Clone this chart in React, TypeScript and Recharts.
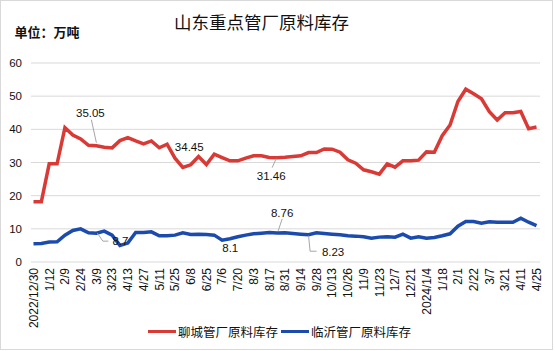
import React from 'react';
import { LineChart, Line, XAxis, YAxis, CartesianGrid, Legend } from 'recharts';

const categories = [
  '2022/12/30', '1/5', '1/12', '2/2', '2/9', '2/16', '2/24', '3/2', '3/9', '3/16',
  '3/23', '3/30', '4/13', '4/20', '4/27', '5/4', '5/11', '5/18', '5/25', '6/1',
  '6/8', '6/15', '6/25', '6/29', '7/6', '7/13', '7/20', '7/27', '8/3', '8/10',
  '8/17', '8/24', '8/31', '9/7', '9/14', '9/21', '9/28', '10/8', '10/13', '10/19',
  '10/26', '11/2', '11/9', '11/16', '11/23', '11/30', '12/7', '12/14', '12/21', '12/28',
  '2024/1/4', '1/11', '1/18', '1/25', '2/1', '2/8', '2/22', '2/29', '3/7', '3/14',
  '3/21', '3/28', '4/11', '4/18', '4/25',
];

const liaocheng = [
  18.2, 18.2, 29.6, 29.6, 40.5, 38.3, 37.1, 35.2, 35.05, 34.6,
  34.4, 36.6, 37.5, 36.5, 35.6, 36.5, 34.45, 35.5, 31.3, 28.5,
  29.3, 31.8, 29.4, 32.5, 31.5, 30.5, 30.5, 31.3, 32.0, 32.0,
  31.5, 31.46, 31.6, 31.8, 32.0, 33.0, 33.0, 34.1, 34.0, 33.1,
  30.8, 29.8, 27.8, 27.2, 26.5, 29.6, 28.6, 30.5, 30.5, 30.7,
  33.2, 33.1, 38.1, 41.3, 48.4, 52.1, 50.7, 49.2, 45.3, 42.8,
  45.0, 45.0, 45.4, 40.2, 40.7,
];

const linyi = [
  5.5, 5.6, 6.0, 6.1, 8.1, 9.5, 10.0, 8.8, 8.7, 9.3,
  8.1, 5.0, 5.7, 8.9, 8.9, 9.1, 7.9, 7.9, 8.1, 8.8,
  8.3, 8.4, 8.3, 8.1, 6.6, 7.0, 7.6, 8.1, 8.5, 8.7,
  8.9, 8.76, 8.8, 8.6, 8.4, 8.23, 8.8, 8.6, 8.4, 8.2,
  7.9, 7.8, 7.6, 7.2, 7.5, 7.6, 7.5, 8.4, 7.2, 7.6,
  7.2, 7.4, 7.9, 8.5, 10.8, 12.2, 12.2, 11.7, 12.1, 12.0,
  12.0, 12.0, 13.2, 12.0, 11.0,
];

const yTicks = [0, 10, 20, 30, 40, 50, 60];
const chartTitle = '山东重点管厂原料库存';
const unitText = '单位：万吨';
const seriesNames = ['聊城管厂原料库存', '临沂管厂原料库存'];
const redLabelIndices = [8, 16, 31];
const blueLabelIndices = [8, 23, 31, 35];

const data = categories.map((c, i) => ({ date: c, lc: liaocheng[i], ly: linyi[i] }));

const FONT = '"Liberation Sans", Arial, "Noto Sans CJK SC", sans-serif';
const RED = '#D93A35';
const BLUE = '#1C4BAE';
const GRID = '#d9d9d9';
const LEADER = '#a6a6a6';

// label placement (relative to the data point): text centre offset and leader line points
const redLabelStyle: Record<number, { dx: number; dy: number; leader?: number[][] }> = {
  8: { dx: -6, dy: -33, leader: [[-5, -26], [0, -3]] },
  16: { dx: 30, dy: -1 },
  31: { dx: -6, dy: 18, leader: [[-5, 10], [-1, 1]] },
};
const blueLabelStyle: Record<number, { dx: number; dy: number; leader?: number[][] }> = {
  8: { dx: 24, dy: 8, leader: [[1, 0], [6.5, 8], [12, 8]] },
  23: { dx: 16, dy: 12.5 },
  31: { dx: 5, dy: -20, leader: [[5, -14], [1, -2]] },
  35: { dx: 24.5, dy: 17, leader: [[0, 1], [1.5, 16.5], [8, 16.5]] },
};

const makeLabel = (indices: number[], styles: Record<number, any>) => (props: any) => {
  const { x, y, value, index } = props;
  if (!indices.includes(index) || x == null || y == null) return null;
  const s = styles[index];
  return (
    <g key={`lbl-${index}`}>
      {s.leader && (
        <polyline
          points={s.leader.map((p: number[]) => `${x + p[0]},${y + p[1]}`).join(' ')}
          fill="none"
          stroke={LEADER}
          strokeWidth={1}
        />
      )}
      <text
        x={x + s.dx}
        y={y + s.dy}
        dy="0.36em"
        textAnchor="middle"
        fontSize={11.5}
        fontFamily={FONT}
        fill="#111"
      >
        {String(value)}
      </text>
    </g>
  );
};

const XTick = (props: any) => {
  const { x, y, payload } = props;
  return (
    <text
      x={x}
      y={y}
      transform={`rotate(-90 ${x} ${y})`}
      textAnchor="end"
      dy="0.36em"
      fontSize={12}
      fontFamily={FONT}
      fill="#111"
    >
      {payload.value}
    </text>
  );
};

const renderLegend = (props: any) => {
  const payload = [...(props.payload || [])].sort(
    (a: any, b: any) => seriesNames.indexOf(a.value) - seriesNames.indexOf(b.value)
  );
  return (
    <div style={{ display: 'flex', alignItems: 'center', fontFamily: FONT, fontSize: 12.5, color: '#111', whiteSpace: 'nowrap' }}>
      {payload.map((p: any, i: number) => (
        <div key={i} style={{ display: 'flex', alignItems: 'center', marginRight: 3 }}>
          <span style={{ display: 'inline-block', width: 28, height: 3.5, background: p.color, marginRight: 2 }} />
          <span>{p.value}</span>
        </div>
      ))}
    </div>
  );
};

export default function App() {
  return (
    <div style={{ position: 'absolute', left: 0, top: 0, width: 555, height: 351, background: '#fff' }}>
      <div
        style={{
          position: 'absolute',
          left: 0,
          top: 0,
          width: 553,
          height: 350,
          border: '1px solid #d9d9d9',
          boxSizing: 'border-box',
        }}
      />
      <LineChart
        width={555}
        height={351}
        data={data}
        margin={{ top: 63, right: 15, left: 0, bottom: 0 }}
      >
        <CartesianGrid vertical={false} stroke={GRID} strokeWidth={1} />
        <XAxis
          dataKey="date"
          interval={1}
          height={89}
          axisLine={false}
          tickLine={false}
          tick={<XTick />}
          tickMargin={0}
          padding={{ left: 2.5, right: 3.5 }}
        />
        <YAxis
          width={31}
          domain={[0, 60]}
          ticks={yTicks}
          axisLine={false}
          tickLine={false}
          tickMargin={3}
          tick={{ fontSize: 11.5, fontFamily: FONT, fill: '#111' }}
        />
        <Legend
          layout="horizontal"
          verticalAlign="middle"
          align="center"
          content={renderLegend}
          wrapperStyle={{ position: 'absolute', left: 148, top: 322, width: 'auto', height: 'auto' }}
        />
        <Line
          type="linear"
          dataKey="lc"
          name={seriesNames[0]}
          stroke={RED}
          strokeWidth={3.5}
          dot={false}
          isAnimationActive={false}
          label={makeLabel(redLabelIndices, redLabelStyle)}
        />
        <Line
          type="linear"
          dataKey="ly"
          name={seriesNames[1]}
          stroke={BLUE}
          strokeWidth={3.5}
          dot={false}
          isAnimationActive={false}
          label={makeLabel(blueLabelIndices, blueLabelStyle)}
        />
      </LineChart>
      <svg
        width={555}
        height={351}
        style={{ position: 'absolute', left: 0, top: 0, pointerEvents: 'none' }}
      >
        <text x={261.5} y={28.8} textAnchor="middle" fontSize={17.5} fontFamily={FONT} fill="#111">
          {chartTitle}
        </text>
        <text x={14.5} y={37} fontSize={13} fontWeight="bold" fontFamily={FONT} fill="#111">
          {unitText}
        </text>
      </svg>
    </div>
  );
}
